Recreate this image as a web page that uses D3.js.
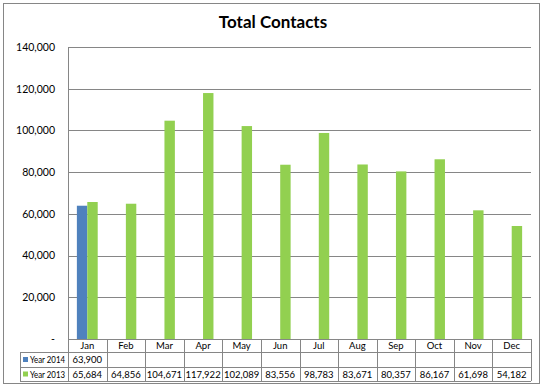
<!DOCTYPE html>
<html>
<head>
<meta charset="utf-8">
<script src="https://cdn.jsdelivr.net/npm/d3@7"></script>
<style>
  body { margin: 0; background: #fff; }
  text { font-family: Lato, "Open Sans", sans-serif; }
</style>
</head>
<body>
<div id="chart"></div>
<script>
// chart data
var months = ["Jan", "Feb", "Mar", "Apr", "May", "Jun", "Jul", "Aug", "Sep", "Oct", "Nov", "Dec"];
var seriesNames = ["Year 2014", "Year 2013"];
var year2014 = [63900, null, null, null, null, null, null, null, null, null, null, null];
var year2013 = [65684, 64856, 104671, 117922, 102089, 83556, 98783, 83671, 80357, 86167, 61698, 54182];
var yTicks = [0, 20000, 40000, 60000, 80000, 100000, 120000, 140000];

var colors = ["#4f81bd", "#92d050"];
var seriesValues = [year2014, year2013];

var svgWidth = 546, svgHeight = 389;
var margin = { top: 47, left: 68, right: 15, bottom: 50 };
var plotRight = 531;
var plotBottom = 339;

var svg = d3.select("#chart").append("svg")
    .attr("width", svgWidth)
    .attr("height", svgHeight);

// outer chart border
svg.append("rect")
    .attr("x", 3.5).attr("y", 3.5)
    .attr("width", 536).attr("height", 380)
    .attr("fill", "#fff")
    .attr("stroke", "#868686");

// title
svg.append("text")
    .attr("x", 273).attr("y", 28)
    .attr("text-anchor", "middle")
    .style("font-size", "17px")
    .style("font-weight", "bold")
    .text("Total Contacts");

var x = d3.scaleBand()
    .domain(months)
    .range([margin.left, plotRight])
    .padding(0);

var y = d3.scaleLinear()
    .domain([0, 140000])
    .range([plotBottom, margin.top]);

var barW = x.bandwidth() * 0.27;

// gridlines
svg.append("g")
    .selectAll("line")
    .data(yTicks.slice(1))
    .join("line")
    .attr("x1", margin.left).attr("x2", plotRight)
    .attr("y1", d => Math.round(y(d)) + 0.5)
    .attr("y2", d => Math.round(y(d)) + 0.5)
    .attr("stroke", "#868686");

// y axis labels
var yAxis = d3.axisLeft(y)
    .tickValues(yTicks)
    .tickSize(0)
    .tickPadding(13)
    .tickFormat(d => d === 0 ? "-" : d3.format(",")(d));

svg.append("g")
    .attr("transform", `translate(${margin.left},0)`)
    .call(yAxis)
    .call(g => g.select(".domain").remove())
    .selectAll("text")
    .style("font-family", "Lato, sans-serif")
    .style("font-size", "10.5px")
    .attr("fill", "#000");

// bars
seriesValues.forEach(function(vals, s) {
    svg.append("g")
        .selectAll("rect")
        .data(months.map((m, i) => ({ m: m, v: vals[i] })).filter(d => d.v != null))
        .join("rect")
        .attr("x", d => x(d.m) + x.bandwidth() / 2 - barW + s * barW)
        .attr("y", d => y(d.v))
        .attr("width", barW)
        .attr("height", d => plotBottom - y(d.v))
        .attr("fill", colors[s]);
});

// axis line
svg.append("line")
    .attr("x1", margin.left + 0.5).attr("x2", margin.left + 0.5)
    .attr("y1", margin.top).attr("y2", plotBottom)
    .attr("stroke", "#868686");

// data table
var rowTops = [339, 352, 367, 381];
var tableLeft = 20;
var table = svg.append("g").attr("stroke", "#868686").attr("fill", "none");

// horizontal lines
rowTops.forEach(function(ry, i) {
    table.append("line")
        .attr("x1", i === 0 ? margin.left : tableLeft)
        .attr("x2", plotRight)
        .attr("y1", ry + 0.5).attr("y2", ry + 0.5);
});
// vertical lines
table.append("line")
    .attr("x1", tableLeft + 0.5).attr("x2", tableLeft + 0.5)
    .attr("y1", rowTops[1]).attr("y2", rowTops[3]);
months.forEach(function(m) {
    table.append("line")
        .attr("x1", Math.round(x(m)) + 0.5).attr("x2", Math.round(x(m)) + 0.5)
        .attr("y1", rowTops[0]).attr("y2", rowTops[3]);
});
table.append("line")
    .attr("x1", plotRight + 0.5).attr("x2", plotRight + 0.5)
    .attr("y1", rowTops[0]).attr("y2", rowTops[3]);

// month labels
svg.append("g")
    .selectAll("text")
    .data(months)
    .join("text")
    .attr("x", d => x(d) + x.bandwidth() / 2)
    .attr("y", (rowTops[0] + rowTops[1]) / 2 + 3.5)
    .attr("text-anchor", "middle")
    .style("font-size", "9.5px")
    .text(d => d);

// series rows
seriesValues.forEach(function(vals, s) {
    var top = rowTops[s + 1], bottom = rowTops[s + 2];
    var mid = (top + bottom) / 2;
    svg.append("rect")
        .attr("x", tableLeft + 3).attr("y", mid - 2.5)
        .attr("width", 5).attr("height", 5)
        .attr("fill", colors[s]);
    svg.append("text")
        .attr("x", tableLeft + 10).attr("y", mid + 3.5)
        .attr("textLength", 35)
        .attr("lengthAdjust", "spacingAndGlyphs")
        .style("font-size", "9.5px")
        .text(seriesNames[s]);
    svg.append("g")
        .selectAll("text")
        .data(months.map((m, i) => ({ m: m, v: vals[i] })).filter(d => d.v != null))
        .join("text")
        .attr("x", d => x(d.m) + x.bandwidth() / 2)
        .attr("y", mid + 3.5)
        .attr("text-anchor", "middle")
        .style("font-size", "9.5px")
        .text(d => d3.format(",")(d.v));
});
</script>
</body>
</html>
